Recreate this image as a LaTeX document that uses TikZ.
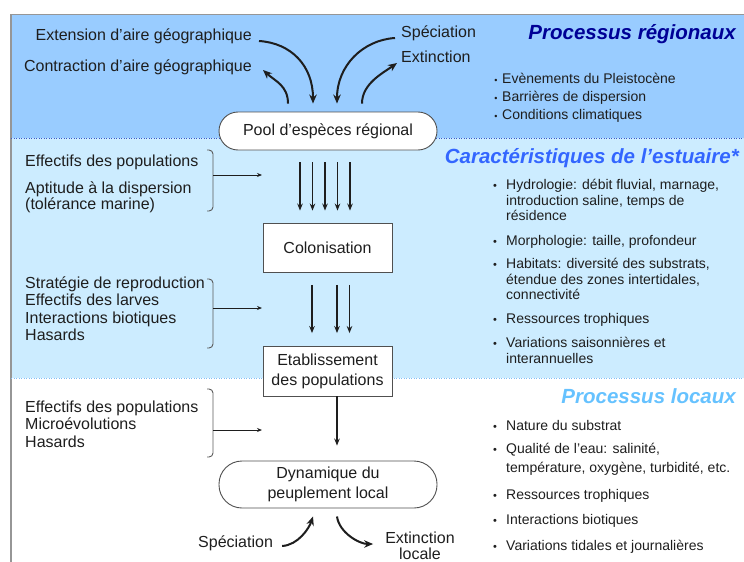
\documentclass[tikz,border=0pt]{standalone}
\usepackage{fontspec}
\setmainfont{Liberation Sans}
\usetikzlibrary{arrows.meta,calc}

\definecolor{bandtop}{RGB}{153,204,255}
\definecolor{bandmid}{RGB}{204,236,255}
\definecolor{ink}{RGB}{30,30,30}
\definecolor{titleA}{RGB}{0,0,150}
\definecolor{titleB}{RGB}{51,102,255}
\definecolor{titleC}{RGB}{102,194,255}
\definecolor{framegray}{RGB}{150,150,150}
\definecolor{boxgray}{RGB}{80,80,80}
\definecolor{brkgray}{RGB}{90,90,90}
\definecolor{dotA}{RGB}{60,90,200}
\definecolor{dotB}{RGB}{130,190,245}

\begin{document}
\begin{tikzpicture}[x=1pt,y=-1pt,
  txt/.style={font=\fontsize{16}{16}\selectfont, text=ink, inner sep=0pt, yshift=-3pt},
  sm/.style={font=\fontsize{14}{16}\selectfont, text=ink, inner sep=0pt, anchor=mid west, yshift=-3pt},
  bul/.style={font=\fontsize{11}{11}\selectfont, text=ink, inner sep=0pt, anchor=center, yshift=-1pt},
  ttl/.style={font=\fontsize{20.5}{24}\selectfont\bfseries\itshape, inner sep=0pt, anchor=mid east, yshift=-4pt},
  box/.style={draw=boxgray, fill=white, line width=0.9pt, inner sep=0pt, align=center,
              font=\fontsize{16}{20}\selectfont, text=ink},
  arr/.style={-{Stealth[length=7pt,width=5.5pt]}, line width=1.5pt, draw=ink},
  carr/.style={-{Stealth[length=9pt,width=7.5pt]}, line width=2pt, draw=ink},
  brk/.style={draw=brkgray, line width=0.9pt, rounded corners=4pt},
  tick/.style={-{Stealth[length=5pt,width=4pt]}, line width=0.9pt, draw=ink}]

\useasboundingbox (0,0) rectangle (744,562);

% bands of the three scales
\fill[bandtop] (11,14) rectangle (744,138);
\fill[bandmid] (11,138) rectangle (744,378);
\draw[framegray, line width=0.8pt] (11,14) -- (744,14);
\draw[framegray, line width=2pt] (11,14) -- (11,562);
\draw[dotA, line width=1pt, dash pattern=on 1pt off 1.5pt] (11,138) -- (744,138);
\draw[dotB, line width=1pt, dash pattern=on 1pt off 1.5pt] (11,378) -- (744,378);

% titles
\node[ttl, text=titleA] (tA) at (736,33) {Processus régionaux};
\node[ttl, text=titleB] (tB) at (739,157) {Caractéristiques de l’estuaire*};
\node[ttl, text=titleC] (tC) at (736,397) {Processus locaux};

% main chain
\node[box, rounded corners=19pt, minimum width=218pt, minimum height=38pt] (pool) at (328,131) {\raisebox{-2pt}{Pool d'espèces régional}};
\node[box, minimum width=129pt, minimum height=49pt] (colo) at (327.5,247.5) {Colonisation};
\node[box, minimum width=129pt, minimum height=50pt] (etab) at (327.5,371) {Etablissement\\des populations};
\node[box, rounded corners=23pt, minimum width=218pt, minimum height=47pt] (dyn) at (328,484.5) {Dynamique du\\peuplement local};

% regional processes (top left / top middle)
\node[txt, anchor=mid east] (ext) at (252,35) {Extension d'aire géographique};
\node[txt, anchor=mid east] (con) at (252,66) {Contraction d'aire géographique};
\node[txt, anchor=mid west] (spe) at (401,32) {Spéciation};
\node[txt, anchor=mid west] (exi) at (401,57) {Extinction};

\coordinate (extS) at ($(ext.mid east)+(7,3)$);
\coordinate (extT) at ($(pool.north)+(-15,-8)$);
\coordinate (conS) at ($(pool.north)+(-40,-8)$);
\coordinate (conT) at ($(con.mid east)+(11,1)$);
\coordinate (speS) at ($(spe.mid west)+(-6,3)$);
\coordinate (speT) at ($(pool.north)+(9,-8)$);
\coordinate (exiS) at ($(pool.north)+(34,-8)$);
\coordinate (exiT) at ($(exi.mid west)+(-4,3)$);
\draw[carr] (extS) .. controls +(32,2) and +(0,-38) .. (extT);
\draw[carr] (conS) .. controls +(0,-18) and +(12,11) .. (conT);
\draw[carr] (speS) .. controls +(-32,2) and +(0,-38) .. (speT);
\draw[carr] (exiS) .. controls +(0,-20) and +(-14,10) .. (exiT);

% regional factors list
\node[bul, font=\fontsize{9}{9}\selectfont] (rb1) at (496,80) {•};
\node[sm] (r1) at (502,78) {Evènements du Pleistocène};
\node[bul, font=\fontsize{9}{9}\selectfont] (rb2) at (496,98) {•};
\node[sm] (r2) at (502,96) {Barrières de dispersion};
\node[bul, font=\fontsize{9}{9}\selectfont] (rb3) at (496,116) {•};
\node[sm] (r3) at (502,114) {Conditions climatiques};

% estuary characteristics list
\node[bul] (eb1) at (495,186) {•};
\node[sm] (e1) at (506,184) {Hydrologie: débit fluvial, marnage,};
\node[sm] (e1b) at (506,200) {introduction saline, temps de};
\node[sm] (e1c) at (506,215) {résidence};
\node[bul] (eb2) at (495,242) {•};
\node[sm] (e2) at (506,240) {Morphologie: taille, profondeur};
\node[bul] (eb3) at (495,265) {•};
\node[sm] (e3) at (506,263) {Habitats: diversité des substrats,};
\node[sm] (e3b) at (506,279) {étendue des zones intertidales,};
\node[sm] (e3c) at (506,294) {connectivité};
\node[bul] (eb4) at (495,320) {•};
\node[sm] (e4) at (506,318) {Ressources trophiques};
\node[bul] (eb5) at (495,344) {•};
\node[sm] (e5) at (506,342) {Variations saisonnières et};
\node[sm] (e5b) at (506,358) {interannuelles};

% local processes list
\node[bul] (lb1) at (495,427) {•};
\node[sm] (l1) at (506,425) {Nature du substrat};
\node[bul] (lb2) at (495,450) {•};
\node[sm] (l2) at (506,448) {Qualité de l'eau: salinité,};
\node[sm] (l2b) at (506,467) {température, oxygène, turbidité, etc.};
\node[bul] (lb3) at (495,496) {•};
\node[sm] (l3) at (506,494) {Ressources trophiques};
\node[bul] (lb4) at (495,521) {•};
\node[sm] (l4) at (506,519) {Interactions biotiques};
\node[bul] (lb5) at (495,547) {•};
\node[sm] (l5) at (506,545) {Variations tidales et journalières};

% left-hand factors with brackets
\node[txt, anchor=mid west] (f1) at (25,161) {Effectifs des populations};
\node[txt, anchor=mid west] (f2) at (25,188) {Aptitude à la dispersion};
\node[txt, anchor=mid west] (f3) at (25,204) {(tolérance marine)};
\draw[brk] (207,150) -- (213,150) -- (213,211) -- (207,211);
\coordinate (k1) at (213,175);
\coordinate (k1t) at (262,175);
\draw[tick] (k1) -- (k1t);

\node[txt, anchor=mid west] (g1) at (25,283) {Stratégie de reproduction};
\node[txt, anchor=mid west] (g2) at (25,300) {Effectifs des larves};
\node[txt, anchor=mid west] (g3) at (25,318) {Interactions biotiques};
\node[txt, anchor=mid west] (g4) at (25,335) {Hasards};
\draw[brk] (207,279) -- (213,279) -- (213,348) -- (207,348);
\coordinate (k2) at (213,308);
\coordinate (k2t) at (262,308);
\draw[tick] (k2) -- (k2t);

\node[txt, anchor=mid west] (h1) at (25,407) {Effectifs des populations};
\node[txt, anchor=mid west] (h2) at (25,424) {Microévolutions};
\node[txt, anchor=mid west] (h3) at (25,442) {Hasards};
\draw[brk] (207,389) -- (213,389) -- (213,457) -- (207,457);
\coordinate (k3) at (213,430);
\coordinate (k3t) at (262,430);
\draw[tick] (k3) -- (k3t);

% flows between stages
\foreach \x in {300,312.5,325,337.5,350}
  \draw[arr] ($(\x,0 |- pool.south)+(0,12)$) -- ($(\x,0 |- colo.north)+(0,-12)$);
\foreach \x in {312,337,349.5}
  \draw[arr] ($(\x,0 |- colo.south)+(0,12.5)$) -- ($(\x,0 |- etab.north)+(0,-12.5)$);
\draw[arr] (337,0 |- etab.south) -- ($(337,0 |- dyn.north)+(0,-15)$);

% local speciation and extinction
\node[txt, anchor=mid west] (spl) at (198,542) {Spéciation};
\node[txt, anchor=mid] (exl) at (420,538) {Extinction};
\node[txt, anchor=mid] (exl2) at (420,553.5) {locale};
\coordinate (splS) at ($(spl.mid east)+(9,1)$);
\coordinate (splT) at ($(dyn.south)+(-15,8)$);
\coordinate (exlS) at ($(dyn.south)+(9,8)$);
\coordinate (exlT) at ($(exl.mid west)+(-12,3)$);
\draw[carr] (splS) .. controls +(16,-1) and +(-4,12) .. (splT);
\draw[carr] (exlS) .. controls +(2,16) and +(-14,0) .. (exlT);

\end{tikzpicture}
\end{document}
